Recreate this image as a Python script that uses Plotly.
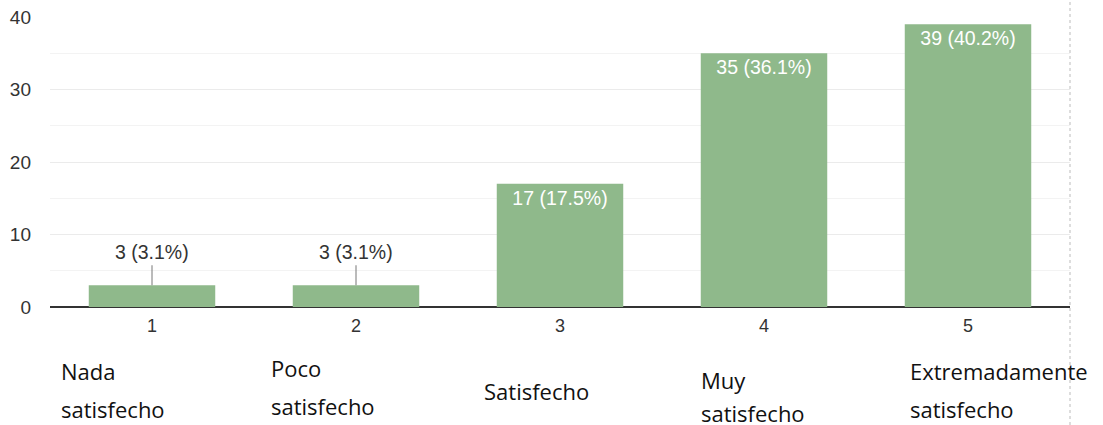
import plotly.graph_objects as go

categories = ["1", "2", "3", "4", "5"]
counts = [3, 3, 17, 35, 39]
percents = [3.1, 3.1, 17.5, 36.1, 40.2]
descriptions = [["Nada", "satisfecho"], ["Poco", "satisfecho"], ["Satisfecho"],
                ["Muy", "satisfecho"], ["Extremadamente", "satisfecho"]]
y_ticks = [0, 10, 20, 30, 40]

# layout helpers (pixel positions of the description text lines)
desc_left_px = [60, 270, 483, 700, 909]
desc_mid_px = [[371, 409], [368, 406], [391], [380, 413], [371, 409]]

W, H = 1103, 425
L, R, T, B = 50, 33, 17, 118
plot_h = H - T - B

BAR = "#8fb98b"
labels = [f"{c} ({p}%)" for c, p in zip(counts, percents)]
inside_threshold = 10

fig = go.Figure()
fig.add_trace(go.Bar(
    x=categories, y=counts, width=0.62,
    marker=dict(color=BAR, line=dict(width=0)),
    text=[t if c >= inside_threshold else "" for t, c in zip(labels, counts)],
    textposition="inside", insidetextanchor="end",
    textfont=dict(family="Liberation Sans, Arial", size=19.5, color="white"),
    hoverinfo="skip",
))

annotations = []
for i, (c, t) in enumerate(zip(counts, labels)):
    if c < inside_threshold:
        annotations.append(dict(
            x=i, y=c, xref="x", yref="y", text=t, showarrow=True,
            arrowhead=0, arrowwidth=1, arrowcolor="#777", ax=0, ay=-20,
            font=dict(family="Liberation Sans, Arial", size=19.5, color="#333"),
            yanchor="bottom",
        ))

for lines, xpx, mids in zip(descriptions, desc_left_px, desc_mid_px):
    for line, ypx in zip(lines, mids):
        annotations.append(dict(
            x=(xpx - L) / (W - L - R), y=(H - B - ypx) / plot_h,
            xref="paper", yref="paper", text=line, showarrow=False,
            xanchor="left", yanchor="middle", borderpad=0,
            font=dict(family="Open Sans", size=22, color="#111"),
        ))

fig.update_layout(
    width=W, height=H,
    margin=dict(l=L, r=R, t=T, b=B),
    paper_bgcolor="white", plot_bgcolor="white",
    showlegend=False,
    annotations=annotations,
    shapes=[dict(type="line", xref="paper", yref="paper", x0=1, x1=1,
                 y0=-B / plot_h, y1=1 + T / plot_h,
                 line=dict(color="#bbb", width=1, dash="dot"))],
    xaxis=dict(
        type="category", range=[-0.5, 4.5], showgrid=False, zeroline=False,
        showline=False, ticks="", ticklabelstandoff=6, automargin=False,
        tickfont=dict(family="Liberation Sans, Arial", size=18, color="#333"),
    ),
    yaxis=dict(
        range=[0, 40], tickvals=y_ticks, showgrid=True,
        gridcolor="#ebebeb", gridwidth=1,
        minor=dict(dtick=5, showgrid=True, gridcolor="#f3f3f3"),
        zeroline=True, zerolinecolor="#333", zerolinewidth=1.5,
        ticks="", ticklabelstandoff=18, automargin=False,
        tickfont=dict(family="Liberation Sans, Arial", size=19, color="#333"),
    ),
)

fig.write_html(
    "out.html",
    config={"displayModeBar": False},
    post_script="document.body.style.margin='0';document.body.style.overflow='hidden';",
)
